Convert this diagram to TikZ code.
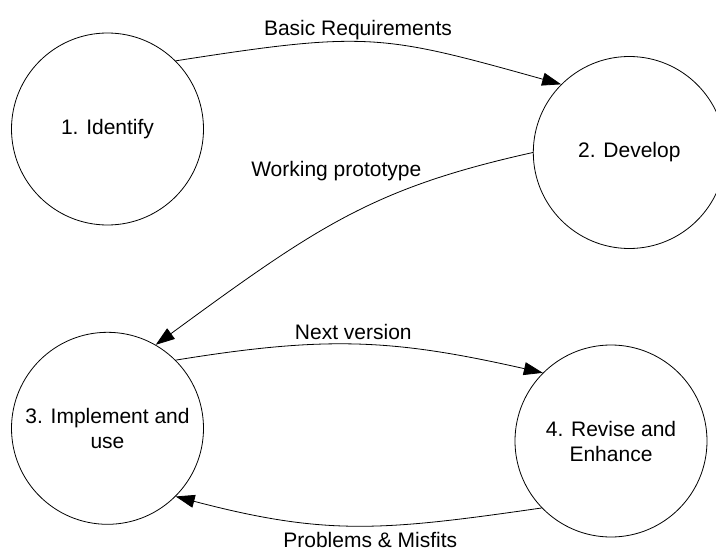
\documentclass[tikz,border=0pt]{standalone}
\usepackage{fontspec}
\setmainfont{Liberation Sans}
\usetikzlibrary{arrows.meta}
\begin{document}
\begin{tikzpicture}[x=1pt,y=-1pt,
  stage/.style={draw=black, circle, minimum size=192pt, inner sep=0pt, align=center,
    font=\fontsize{21}{25}\selectfont, line width=0.8pt},
  conn/.style={draw=black, line width=0.8pt, -{Triangle[length=19pt,width=13pt]}},
  lbl/.style={anchor=base, inner sep=0pt, font=\fontsize{21}{25}\selectfont}]
\clip (0,0) rectangle (716,551);
\node[stage] (c1) at (107.5,129) {1. Identify};
\node[stage] (c2) at (629.3,152.5) {2. Develop};
\node[stage] (c3) at (107.5,428.3) {3. Implement and\\use};
\node[stage] (c4) at (611,441) {4. Revise and\\Enhance};
\draw[conn] (c1.45) .. controls (367,31) and (381,34) .. (c2.135);
\draw[conn] (c2.180) .. controls (373,188) and (318,226) .. (c3.60);
\draw[conn] (c3.45) .. controls (327,335.5) and (393,339) .. (c4.135);
\draw[conn] (c4.224) .. controls (382,531) and (326,536) .. (c3.315);
\node[lbl] (l1) at (358,36) {Basic Requirements};
\node[lbl] (l2) at (336.3,176) {Working prototype};
\node[lbl] (l3) at (353.3,339) {Next version};
\node[lbl] (l4) at (370.3,547) {Problems \& Misfits};
\end{tikzpicture}
\end{document}
